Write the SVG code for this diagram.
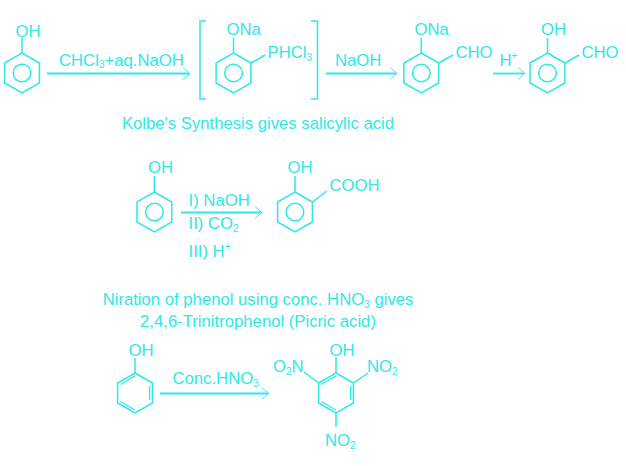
<svg xmlns="http://www.w3.org/2000/svg" width="626" height="466" viewBox="0 0 626 466">
<style>
text{font-family:"Liberation Sans",Arial,sans-serif;font-size:16.7px;fill:#2ee8e8}
.s{font-size:10px}
.b{fill:none;stroke:#2ee8e8;stroke-width:1.5}
.a{fill:none;stroke:#2ee8e8;stroke-width:1.8}
.h{fill:none;stroke:#2ee8e8;stroke-width:.9}
.k{stroke-width:1.3}
</style>
<defs>
<g id="ar" class="b"><path d="M0-20L17.4-10V10L0 20L-17.4 10V-10Z"/><circle r="8.8"/></g>
<g id="kek" class="b"><path d="M0-20L17.4-10V10L0 20L-17.4 10V-10Z"/><path class="k" d="M-14.6-8.5L0-17M14.6-7V7M-14.6 8.5L0 17"/></g>
</defs>
<rect width="626" height="466" fill="#fff"/>
<g id="connectors">
<path class="a" d="M47 73.5H189"/><path class="h" d="M183 67.5L190 73.5L183 79.5"/>
<path class="a" d="M326 73.5H396"/><path class="h" d="M390 67.5L397 73.5L390 79.5"/>
<path class="a" d="M493 73.5H524"/><path class="h" d="M518 67.5L525 73.5L518 79.5"/>
<path class="a" d="M181 212.5H261"/><path class="h" d="M255 206.5L262 212.5L255 218.5"/>
<path class="a" d="M160 393.5H268"/><path class="h" d="M262 388L269 393.5L262 399"/>
</g>
<g id="phenol-1"><use href="#ar" x="22" y="73"/><path class="b" d="M22 53V38"/><text x="15.5" y="36.5">OH</text></g>
<g id="label-1"><text x="59" y="65.5">CHCl<tspan class="s" dy="2.5">3</tspan><tspan dy="-2.5">+aq.NaOH</tspan></text></g>
<g id="intermediate"><path class="b" d="M206 21H200V99H206M311 21H317.5V99H311"/><use href="#ar" x="233.5" y="73"/><path class="b" d="M233.5 53V38M251 63L265 55"/><text x="226.5" y="35">ONa</text><text x="267.5" y="58">PHCl<tspan class="s" dy="2.5">3</tspan></text></g>
<g id="label-2"><text x="335" y="66">NaOH</text></g>
<g id="sodium-salt"><use href="#ar" x="421.3" y="73"/><path class="b" d="M421.3 53V38M438.7 63L453 55"/><text x="414.5" y="35">ONa</text><text x="455.5" y="58">CHO</text></g>
<g id="label-3"><text x="499.5" y="66">H<tspan class="s" dy="-7">+</tspan></text></g>
<g id="salicylaldehyde"><use href="#ar" x="547.5" y="73"/><path class="b" d="M547.5 53V38M565 63L579 55"/><text x="541" y="35">OH</text><text x="581.5" y="58">CHO</text></g>
<g id="caption-1"><text x="258" y="129" text-anchor="middle">Kolbe's Synthesis gives salicylic acid</text></g>
<g id="phenol-2"><use href="#ar" x="154.4" y="212"/><path class="b" d="M154.4 192V176"/><text x="148" y="173">OH</text></g>
<g id="label-4"><text x="188.5" y="206">I) NaOH</text><text x="188.5" y="229">II) CO<tspan class="s" dy="2.5">2</tspan></text><text x="188.5" y="257">III) H<tspan class="s" dy="-7">+</tspan></text></g>
<g id="salicylic-acid"><use href="#ar" x="295" y="212"/><path class="b" d="M295 192V176M312.4 202L327 191"/><text x="287.5" y="173">OH</text><text x="329.5" y="191">COOH</text></g>
<g id="caption-2"><text x="258" y="305" text-anchor="middle">Niration of phenol using conc. HNO<tspan class="s" dy="2.5">3</tspan><tspan dy="-2.5"> gives</tspan></text><text x="258" y="327" text-anchor="middle">2,4,6-Trinitrophenol (Picric acid)</text></g>
<g id="phenol-3"><use href="#kek" x="135" y="393"/><path class="b" d="M135 373V358"/><text x="128.5" y="355.5">OH</text></g>
<g id="label-5"><text x="172.5" y="384">Conc.HNO<tspan class="s" dy="2.5">3</tspan></text></g>
<g id="picric-acid"><use href="#kek" x="336" y="393"/><path class="b" d="M336 373V357M318.6 383L304 372M353.4 383L368 373M336 413V427"/><text x="329.5" y="355.5">OH</text><text x="273" y="372">O<tspan class="s" dy="2.5">2</tspan><tspan dy="-2.5">N</tspan></text><text x="367" y="372">NO<tspan class="s" dy="2.5">2</tspan></text><text x="325" y="446">NO<tspan class="s" dy="2.5">2</tspan></text></g>
</svg>
